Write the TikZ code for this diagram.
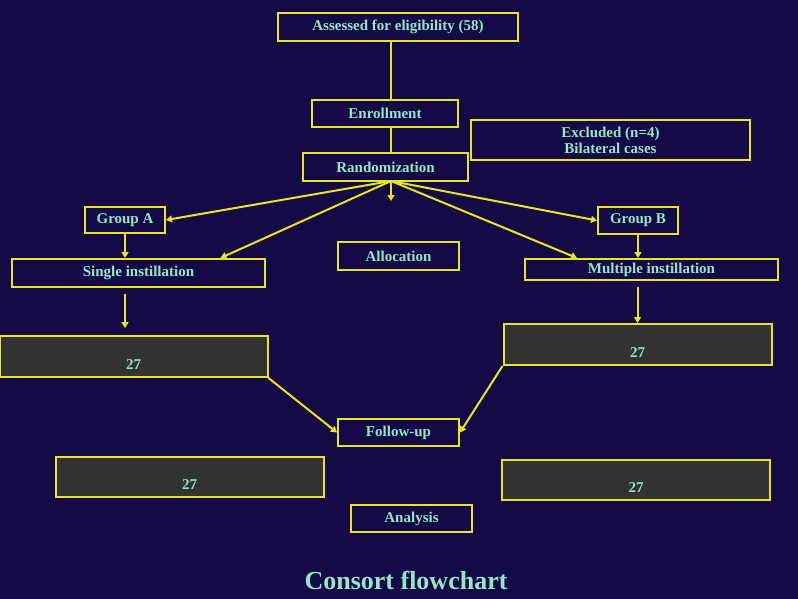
\documentclass[tikz,border=0pt]{standalone}
\usepackage{fontspec}
\setmainfont{Liberation Serif}
\usetikzlibrary{positioning,arrows.meta}
\definecolor{navy}{RGB}{20,10,70}
\definecolor{boxline}{RGB}{230,230,40}
\definecolor{mint}{RGB}{150,230,200}
\definecolor{darkfill}{RGB}{51,51,51}

\begin{document}
\begin{tikzpicture}[x=1pt,y=-1pt,
    box/.style={draw=boxline, line width=2pt, text=mint, inner sep=0pt, align=center,
        font=\bfseries\fontsize{15}{16}\selectfont},
    count/.style={box, fill=darkfill, minimum width=268pt, text depth=8pt},
    link/.style={draw=boxline, line width=2pt},
    arr/.style={link, -{Triangle[length=6pt,width=7pt]}}]

    % Background
    \fill[navy] (0,0) rectangle (798,599);
    \useasboundingbox (0,0) rectangle (798,599);

    % Enrollment
    \node[box, minimum width=240pt, minimum height=28pt] (assess) at (398,27) {Assessed for eligibility (58)};
    \node[box, minimum width=146pt, minimum height=27pt] (enrol) at (385,113.5) {Enrollment};
    \node[box, minimum width=279pt, minimum height=40pt] (excl) at (610.5,140) {Excluded (n=4)\\Bilateral cases};
    \node[box, minimum width=165pt, minimum height=28pt] (rand) at (385.5,167) {Randomization};
    \coordinate (hub) at (391,181);
    \coordinate (down) at (391,201);

    % Allocation
    \node[box, minimum width=80pt, minimum height=26pt] (grpA) at (125,220) {Group A};
    \node[box, minimum width=80pt, minimum height=27pt] (grpB) at (638,220.5) {Group B};
    \node[box, minimum width=253pt, minimum height=28pt] (single) at (138.5,273) {Single instillation};
    \node[box, minimum width=253pt, minimum height=21pt] (multi) at (651.5,269.5) {Multiple instillation};
    \node[box, minimum width=121pt, minimum height=28pt] (alloc) at (398.5,256) {Allocation};
    \coordinate (singleend) at (125,328);

    % Follow-up and analysis
    \foreach \nm/\cx/\cy/\tht in {cntA/133.5/356.5/33, cntB/637.5/344.5/33, anaA/189.5/477/32, anaB/636/480/32}
        \node[count, text height=\tht pt] (\nm) at (\cx,\cy) {27};
    \node[box, minimum width=121pt, minimum height=27pt] (follow) at (398.5,432.5) {Follow-up};
    \node[box, minimum width=121pt, minimum height=27pt] (analysis) at (411.5,518.5) {Analysis};

    \node[text=mint, font=\bfseries\fontsize{26}{30}\selectfont] (title) at (406,580) {Consort flowchart};

    % Connectors
    \draw[link] (assess.south -| hub) -- (enrol.north -| hub);
    \draw[link] (enrol.south -| hub) -- (rand.north -| hub);
    \draw[arr] (hub) -- (grpA.east);
    \draw[arr] (hub) -- (grpB.west);
    \draw[arr] (hub) -- ([xshift=82pt]single.north);
    \draw[arr] (hub) -- ([xshift=-74.5pt]multi.north);
    \draw[arr] (hub) -- (down);
    \draw[arr] (grpA.south) -- (grpA.south |- single.north);
    \draw[arr] ([yshift=-6pt]single.south -| singleend) -- (singleend);
    \draw[arr] (grpB.south) -- (grpB.south |- multi.north);
    \draw[arr] ([yshift=-6pt]multi.south -| cntB.north) -- (cntB.north);
    \draw[arr] (cntA.south east) -- (follow.west);
    \draw[arr] (cntB.south west) -- (follow.east);
\end{tikzpicture}
\end{document}
